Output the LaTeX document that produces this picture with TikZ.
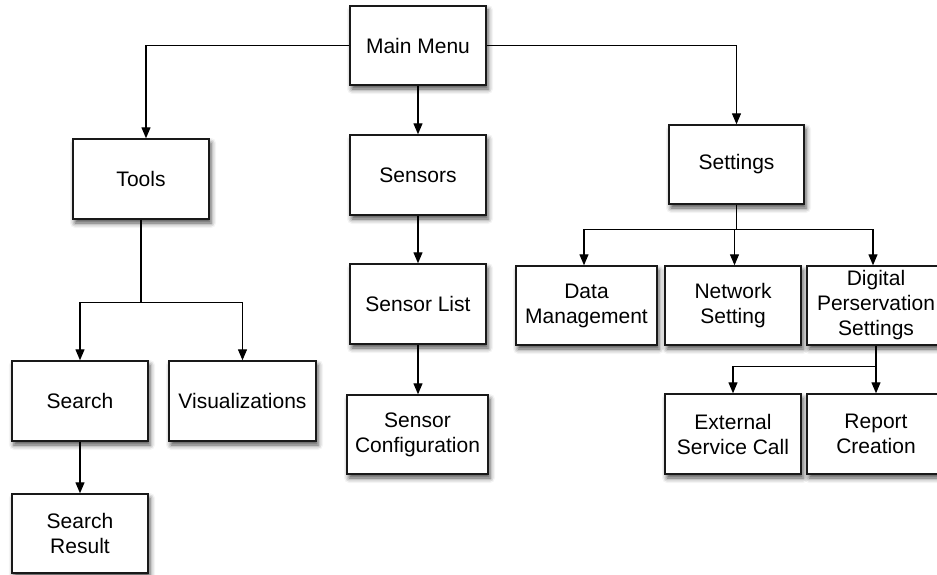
\documentclass[tikz,border=0pt]{standalone}
\usepackage{fontspec}
\setmainfont{Liberation Sans}
\usetikzlibrary{arrows.meta,shadows.blur}
\begin{document}
\begin{tikzpicture}[x=1pt,y=-1pt,
  box/.style={draw=black!90,line width=1.4pt,fill=white,align=center,
    inner sep=0pt,font=\fontsize{21}{25}\selectfont,
    blur shadow={shadow xshift=2pt,shadow yshift=-4pt,shadow blur radius=5pt,shadow opacity=70}},
  arr/.style={line width=1.2pt,-{Triangle[length=11pt,width=9pt]}},
  ln/.style={line width=1.2pt}]
\useasboundingbox (0,0) rectangle (937,575);
% nodes: center x, center y, width, height
\node[box,minimum width=136pt,minimum height=79pt] (mm) at (418,45.5) {Main Menu};
\node[box,minimum width=136pt,minimum height=80pt] (tools) at (141,179) {Tools};
\node[box,minimum width=136pt,minimum height=80pt] (sensors) at (418,175) {Sensors};
\node[box,minimum width=135pt,minimum height=79pt] (settings) at (736.5,164.5) {Settings};
\node[box,minimum width=136pt,minimum height=80pt] (slist) at (418,304) {Sensor List};
\node[box,minimum width=141pt,minimum height=79pt] (sconf) at (417.5,434.5) {Sensor\\Configuration};
\node[box,minimum width=141pt,minimum height=79pt] (dm) at (586.5,305.5) {Data\\Management};
\node[box,minimum width=136pt,minimum height=79pt] (ns) at (733,305.5) {Network\\Setting};
\node[box,minimum width=138pt,minimum height=79pt] (dps) at (876,305.5) {Digital\\Perservation\\Settings};
\node[box,minimum width=136pt,minimum height=80pt] (ext) at (733,434) {External\\Service Call};
\node[box,minimum width=138pt,minimum height=80pt] (rep) at (876,434) {Report\\Creation};
\node[box,minimum width=136pt,minimum height=80pt] (search) at (80,401) {Search};
\node[box,minimum width=147pt,minimum height=80pt] (vis) at (242.5,401) {Visualizations};
\node[box,minimum width=136pt,minimum height=79pt] (sres) at (80,533.5) {Search\\Result};
% connectors
\draw[arr] (mm.west) -| ([xshift=5pt]tools.north);
\draw[arr] (mm.south) -- (sensors.north);
\draw[arr] (mm.east) -| (settings.north);
\draw[arr] (sensors.south) -- (slist.north);
\draw[arr] (slist.south) -- (slist.south |- sconf.north);
\draw[ln] (tools.south) -- ++(0,83) coordinate (tb);
\draw[arr] (tb) -| (search.north);
\draw[arr] (tb) -| (vis.north);
\draw[arr] (search.south) -- (sres.north);
\draw[ln] (settings.south) -- ++(0,24.5) coordinate (sb);
\draw[arr] (sb) -| ([xshift=-2.5pt]dm.north);
\draw[arr] (sb) -| ([xshift=1.5pt]ns.north);
\draw[arr] (sb) -| ([xshift=-3pt]dps.north);
\draw[ln] (dps.south) -- ++(0,21) coordinate (db);
\draw[arr] (db) -| (ext.north);
\draw[arr] (db) -| (rep.north);
\end{tikzpicture}
\end{document}
